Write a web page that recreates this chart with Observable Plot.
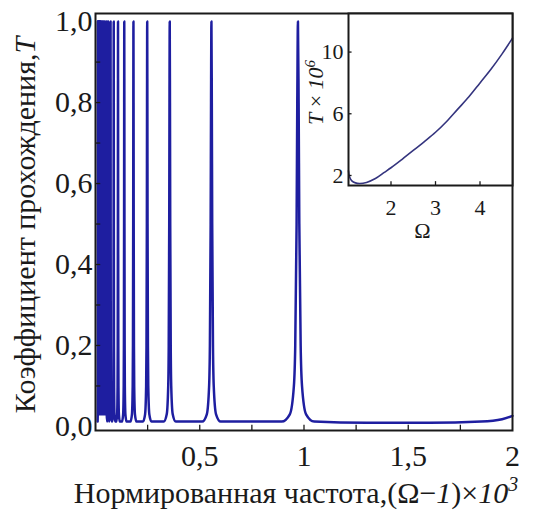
<!DOCTYPE html>
<html>
<head>
<meta charset="utf-8">
<script src="https://cdn.jsdelivr.net/npm/d3@7"></script>
<script src="https://cdn.jsdelivr.net/npm/@observablehq/plot@0.6"></script>
<style>
  html, body { margin: 0; padding: 0; background: white; }
  #chart { position: relative; width: 549px; height: 514px; }
  #inset { position: absolute; left: 290px; top: 0px; }
  #chart svg, #chart svg text { font-family: "Liberation Serif", "DejaVu Serif", "Noto Serif", serif !important; }
</style>
</head>
<body>
<div id="chart"><div id="main"></div><div id="inset"></div></div>
<script>
// ---------- main chart data ----------
// resonance positions, (Ω-1)×10^3
const peakX = [0.0111, 0.0120, 0.0129, 0.0140, 0.0152, 0.0165, 0.0181, 0.0198, 0.0218, 0.0242,
               0.0270, 0.0302, 0.0341, 0.0388, 0.0446, 0.0517, 0.0607, 0.0722, 0.0874,
               0.108, 0.138, 0.182, 0.248, 0.356, 0.556, 0.971];
// half-widths of the resonances
const peakHalfWidth = [0.00007, 0.00008, 0.00009, 0.00009, 0.0001, 0.00011, 0.00012, 0.00013, 0.00015, 0.00016,
                       0.00018, 0.0002, 0.00023, 0.00026, 0.0003, 0.00035, 0.0004, 0.0005, 0.0006,
                       0.0007, 0.0009, 0.0012, 0.0017, 0.0024, 0.0037, 0.0065];
// shape of one resonance: offset in half-widths, transmission
const shapeOffset = [-12, -6, -3, -2, -1, -0.5, 0, 0.5, 1, 2, 3, 6, 12];
const shapeT      = [0.012, 0.03, 0.1, 0.2, 0.5, 0.8, 1.0, 0.8, 0.5, 0.2, 0.1, 0.03, 0.012];
// background beyond the last resonance
const tailX = [1.3, 1.6, 1.85, 1.95, 2.0];
const tailT = [0.009, 0.009, 0.012, 0.018, 0.026];

const xTickLabels = [0.5, 1, 1.5, 2];
const xMinorTicks = [0.25, 0.5, 0.75, 1, 1.25, 1.5, 1.75];
const yTickLabels = [0, 0.2, 0.4, 0.6, 0.8, 1.0];
const yMinorTicks = [0.1, 0.2, 0.3, 0.4, 0.5, 0.6, 0.7, 0.8, 0.9];

// ---------- inset data ----------
const insetOmega = [1.045, 1.07, 1.12, 1.2, 1.3, 1.45, 1.65, 1.85, 2.0, 2.25, 2.5, 2.75, 3.0, 3.25, 3.5, 3.75, 4.0, 4.25, 4.5, 4.73];
const insetT     = [2.3, 1.9, 1.65, 1.52, 1.48, 1.55, 1.8, 2.2, 2.5, 3.05, 3.62, 4.2, 4.8, 5.5, 6.3, 7.1, 8.0, 8.9, 9.9, 10.9];
const insetXTicks = [2, 3, 4];
const insetYTicks = [2, 6, 10];

// ---------- build line table ----------
const mainData = [];
for (let i = 0; i < peakX.length; i++) {
  const lo = i > 0 ? (peakX[i - 1] + peakX[i]) / 2 : -Infinity;
  const hi = i < peakX.length - 1 ? (peakX[i] + peakX[i + 1]) / 2 : Infinity;
  shapeOffset.forEach((o, k) => {
    const x = peakX[i] + o * peakHalfWidth[i];
    if (x >= lo && x <= hi) mainData.push({x, T: shapeT[k]});
  });
}
tailX.forEach((x, k) => mainData.push({x, T: tailT[k]}));

const xDomain = [0, 2];
const yDomain = [-0.01, 1.02];
const lineColor = "#1e1ea0";
const ink = "#1a1a1a";
const serif = "Liberation Serif, DejaVu Serif, serif";
const fmt = d => (Number.isInteger(d) ? String(d) : d3.format(".1f")(d)).replace(".", ",");
const fmtY = d => d3.format(".1f")(d).replace(".", ",");

const main = Plot.plot({
  width: 549, height: 514,
  marginLeft: 95, marginRight: 37, marginTop: 13, marginBottom: 84,
  style: {fontSize: "30px", color: ink, background: "white"},
  x: {domain: xDomain, axis: null},
  y: {domain: yDomain, axis: null},
  marks: [
    Plot.line(mainData, {x: "x", y: "T", stroke: lineColor, strokeWidth: 2.5, curve: "monotone-x"}),
    Plot.ruleX(xMinorTicks, {x: d => d, y1: yDomain[0], y2: yDomain[0] + 0.013, stroke: ink, strokeWidth: 1.3}),
    Plot.ruleY(yMinorTicks, {y: d => d, x1: xDomain[0], x2: xDomain[0] + 0.025, stroke: ink, strokeWidth: 1.3}),
    Plot.frame({stroke: ink, strokeWidth: 2}),
    Plot.text(xTickLabels, {x: d => d, text: fmt, frameAnchor: "bottom", dy: 26, lineAnchor: "middle", fontSize: 30, fill: ink}),
    Plot.text(yTickLabels, {y: d => d, text: fmtY, frameAnchor: "left", dx: -3, textAnchor: "end", lineAnchor: "middle", fontSize: 30, fill: ink}),
    Plot.text(["XTITLE"], {frameAnchor: "bottom", dy: 63, dx: -8, textAnchor: "middle", lineAnchor: "middle", fontSize: 30, fill: ink}),
    Plot.text(["YTITLE"], {frameAnchor: "left", rotate: -90, dx: -70, dy: 3, textAnchor: "middle", lineAnchor: "middle", fontSize: 30, fill: ink})
  ]
});
document.getElementById("main").appendChild(main);

const inset = Plot.plot({
  width: 259, height: 245,
  marginLeft: 58, marginRight: 37, marginTop: 13, marginBottom: 60,
  style: {fontSize: "22px", color: ink, background: "transparent"},
  x: {domain: [1.045, 4.73], axis: null},
  y: {domain: [1.35, 12.5], axis: null},
  marks: [
    Plot.frame({fill: "white"}),
    Plot.line(insetOmega.map((o, i) => ({o, t: insetT[i]})), {x: "o", y: "t", stroke: "#34347e", strokeWidth: 1.6, curve: "catmull-rom"}),
    Plot.ruleX(insetXTicks, {x: d => d, y1: 1.35, y2: 1.35 + 0.25, stroke: ink, strokeWidth: 1.3}),
    Plot.ruleY(insetYTicks, {y: d => d, x1: 1.045, x2: 1.045 + 0.08, stroke: ink, strokeWidth: 1.3}),
    Plot.frame({stroke: ink, strokeWidth: 2}),
    Plot.text(insetXTicks, {x: d => d, text: d => String(d), frameAnchor: "bottom", dy: 22, lineAnchor: "middle", fontSize: 22, fill: ink}),
    Plot.text(insetYTicks, {y: d => d, text: d => String(d), frameAnchor: "left", dx: -5, textAnchor: "end", lineAnchor: "middle", fontSize: 22, fill: ink}),
    Plot.text(["Ω"], {frameAnchor: "bottom", dy: 45, dx: -8, textAnchor: "middle", lineAnchor: "middle", fontSize: 22, fill: ink}),
    Plot.text(["ITITLE"], {frameAnchor: "left", rotate: -90, dx: -33, dy: -7, textAnchor: "middle", lineAnchor: "middle", fontSize: 22, fill: ink})
  ]
});
document.getElementById("inset").appendChild(inset);

// rich text for titles (italic parts, superscripts)
const rich = {
  XTITLE: 'Нормированная частота,(Ω−<tspan font-style="italic">1</tspan>)×<tspan font-style="italic">10</tspan><tspan font-style="italic" font-size="20" dy="-12">3</tspan>',
  YTITLE: 'Коэффициент прохождения,<tspan font-style="italic">T</tspan>',
  ITITLE: '<tspan font-style="italic">T</tspan> × <tspan font-style="italic">10</tspan><tspan font-style="italic" font-size="15" dy="-8">6</tspan>'
};
document.querySelectorAll("#chart text").forEach(t => {
  const key = t.textContent.trim();
  if (rich[key]) t.innerHTML = rich[key];
  t.setAttribute("font-family", serif);
  t.style.fontFamily = serif;
});
</script>
</body>
</html>
